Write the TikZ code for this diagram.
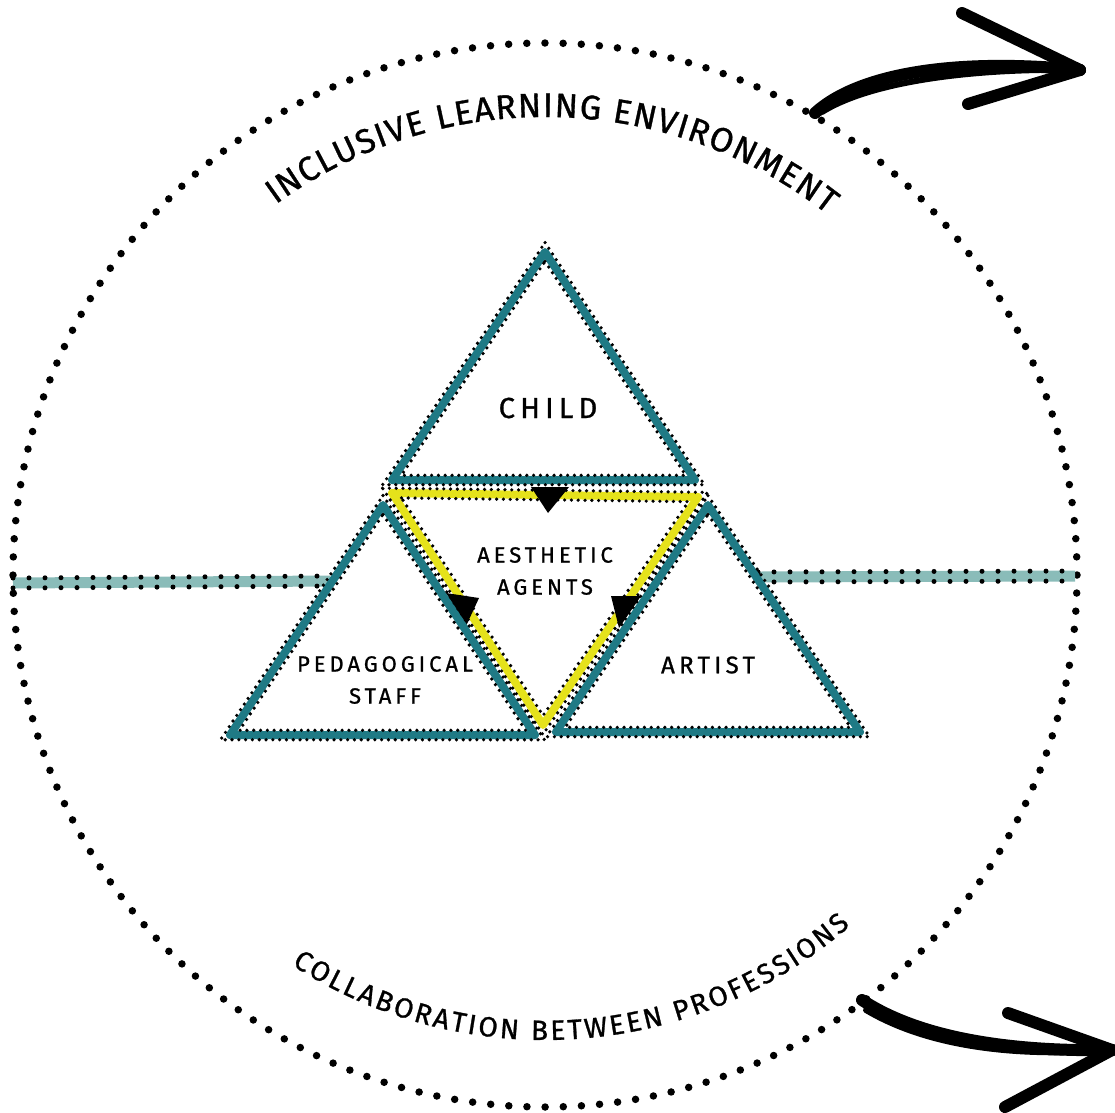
\documentclass[tikz,border=0pt]{standalone}
\usepackage{fontspec}
\setmainfont{Fira Sans}
\usetikzlibrary{calc,decorations.text}

\definecolor{triteal}{HTML}{1F7A85}
\definecolor{bandteal}{HTML}{8ABCB9}
\definecolor{agentyellow}{HTML}{E5E21B}

\tikzstyle{triedge}  = [line width=8pt, line join=round, line cap=round]
\tikzstyle{edgedots} = [line width=3.6pt, line cap=round, dash pattern=on 0pt off 6.8pt]
\tikzstyle{ringdots} = [line width=7.5pt, line cap=round, dash pattern=on 0pt off 18.17pt]
\tikzstyle{banddots} = [line width=5pt, line cap=round, dash pattern=on 0pt off 16pt]
\tikzstyle{band}     = [line width=11pt, bandteal]
\tikzstyle{sketch}   = [line width=12pt, line cap=round, line join=round]
\tikzstyle{tritext}  = [font=\fontsize{22}{32}\selectfont\addfontfeature{LetterSpace=18,FakeBold=1}, align=center]

\newcommand{\arcfont}{\fontsize{34}{34}\selectfont\addfontfeature{FakeBold=1}}
\newcommand{\lowarcfont}{\fontsize{28}{28}\selectfont\addfontfeature{FakeBold=1}}

% triangle with a dotted rim on both sides
\newcommand{\sketchtri}[2]{%
  \coordinate (#1M) at (barycentric cs:#1A=1,#1B=1,#1C=1);
  \draw[triedge,#2] (#1A) -- (#1B) -- (#1C) -- cycle;
  \foreach \f in {1.062,0.938}
    \draw[edgedots] ($(#1M)!\f!(#1A)$) -- ($(#1M)!\f!(#1B)$) -- ($(#1M)!\f!(#1C)$) -- cycle;
}

\begin{document}
\begin{tikzpicture}[x=1pt,y=-1pt]
  \useasboundingbox (0,0) rectangle (1115,1112);

  % outer ring
  \coordinate (ringC) at (545,575);
  \draw[ringdots] (ringC) circle[radius=532pt];

  \path[decorate, decoration={text along path, text align=fit to path,
      text={|\arcfont|INCLUSIVE LEARNING ENVIRONMENT}}]
    (ringC) ++(126:458pt) arc[start angle=126, end angle=52, radius=458pt];
  \path[decorate, decoration={text along path, text align=fit to path,
      text={|\lowarcfont|COLLABORATION BETWEEN PROFESSIONS}}]
    (ringC) ++(237:465pt) arc[start angle=237, end angle=311, radius=465pt];

  % side bands
  \coordinate (bandLW) at (13,583);
  \coordinate (bandLE) at (330,581);
  \coordinate (bandRW) at (758,577);
  \coordinate (bandRE) at (1075,576);
  \draw[band] (bandLW) -- (bandLE);
  \draw[band] (bandRW) -- (bandRE);
  \foreach \s in {5pt,-5pt} {
    \draw[banddots] ([yshift=\s]bandLW) -- ([yshift=\s]bandLE);
    \draw[banddots] ([yshift=\s]bandRW) -- ([yshift=\s]bandRE);
  }

  % aesthetic agents
  \coordinate (agentA) at (392,493);
  \coordinate (agentB) at (698,497);
  \coordinate (agentC) at (543,725);
  \sketchtri{agent}{agentyellow}
  \fill (531,487) -- (569,487) -- (548,513) -- cycle;
  \fill (446,593) -- (479,598) -- (466,626) -- cycle;
  \fill (611,596) -- (641,596) -- (619,628) -- cycle;

  % child
  \coordinate (childA) at (545,252);
  \coordinate (childB) at (695,480);
  \coordinate (childC) at (392,480);
  \sketchtri{child}{triteal}

  % pedagogical staff
  \coordinate (staffA) at (383,505);
  \coordinate (staffB) at (535,735);
  \coordinate (staffC) at (230,735);
  \sketchtri{staff}{triteal}

  % artist
  \coordinate (artistA) at (708,505);
  \coordinate (artistB) at (860,732);
  \coordinate (artistC) at (556,732);
  \sketchtri{artist}{triteal}

  \node[tritext, font=\fontsize{29}{34}\selectfont\addfontfeature{LetterSpace=18,FakeBold=1}] (child) at (548,408) {CHILD};
  \node[tritext] (agents) at (545,571) {AESTHETIC\\AGENTS};
  \node[tritext] (staff) at (385,680) {PEDAGOGICAL\\STAFF};
  \node[tritext, font=\fontsize{24}{32}\selectfont\addfontfeature{LetterSpace=18,FakeBold=1}] (artist) at (708,665) {ARTIST};

  % hand drawn arrows
  \coordinate (upS) at (815,113);
  \coordinate (upT) at (1080,70);
  \draw[sketch] (upS) .. controls (860,72) and (960,58) .. (upT);
  \draw[sketch, line width=6pt] (822,112) .. controls (870,82) and (970,68) .. (upT);
  \draw[sketch] (962,13) -- (upT);
  \draw[sketch] (968,104) -- (upT);

  \coordinate (downS) at (862,1000);
  \coordinate (downT) at (1112,1050);
  \draw[sketch] (downS) .. controls (915,1035) and (1000,1052) .. (downT);
  \draw[sketch, line width=6pt] (866,1010) .. controls (925,1045) and (1010,1058) .. (downT);
  \draw[sketch] (1008,1013) -- (downT);
  \draw[sketch] (1005,1107) -- (downT);
\end{tikzpicture}
\end{document}
